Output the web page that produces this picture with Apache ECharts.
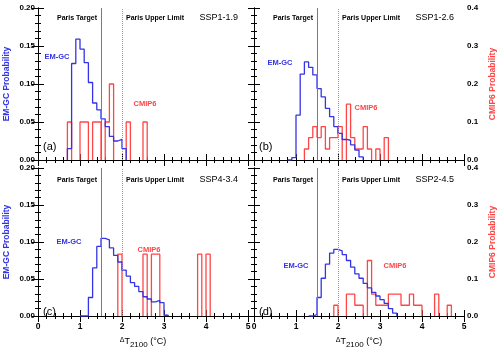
<!DOCTYPE html>
<html>
<head>
<meta charset="utf-8">
<script src="https://cdn.jsdelivr.net/npm/echarts@6/dist/echarts.min.js"></script>
<style>
  html, body { margin: 0; padding: 0; background: #fff; }
  #chart { width: 500px; height: 350px; }
</style>
</head>
<body>
<div id="chart"></div>
<script>
// histogram bin width (degC)
const BIN = 0.1

const panelLetters = ['(a)', '(b)', '(c)', '(d)']
const scenarios = ['SSP1-1.9', 'SSP1-2.6', 'SSP4-3.4', 'SSP2-4.5']
const parisTarget = 1.5
const parisUpper = 2.0

const xTicks = [0, 1, 2, 3, 4, 5]
const emgcTicks = [0, 0.05, 0.10, 0.15, 0.20]
const cmipTicks = [0, 0.1, 0.2, 0.3, 0.4]

// EM-GC probabilities, bins of 0.1 starting at *_start
const emgcA_start = 0.7
const emgcA = [0.015, 0.127, 0.159, 0.146, 0.128, 0.102, 0.075, 0.066, 0.054, 0.044, 0.031, 0.025, 0.027, 0.015]
const emgcB_start = 0.8
const emgcB = [0, 0.003, 0.059, 0.113, 0.129, 0.122, 0.112, 0.094, 0.083, 0.068, 0.057, 0.044, 0.035, 0.027, 0.026, 0.020, 0.013, 0.004]
const emgcC_start = 1.0
const emgcC = [0, 0, 0.025, 0.065, 0.094, 0.105, 0.103, 0.092, 0.082, 0.073, 0.062, 0.054, 0.045, 0.040, 0.033, 0.026, 0.023, 0.019, 0.021, 0.018, 0.001]
const emgcD_start = 1.3
const emgcD = [0, 0.002, 0.025, 0.051, 0.070, 0.085, 0.090, 0.088, 0.083, 0.075, 0.066, 0.057, 0.051, 0.044, 0.038, 0.032, 0.027, 0.022, 0.017, 0.010, 0.004]

// CMIP6 probabilities (right axis), same bin width
const cmipA_start = 0.7
const cmipA = [0.1, 0, 0, 0.1, 0.1, 0, 0.1, 0.1, 0, 0.1, 0.2, 0, 0, 0, 0.1, 0, 0, 0, 0.1]
const cmipB_start = 1.2
const cmipB = [0.029, 0.059, 0.088, 0.059, 0.088, 0.029, 0.059, 0.059, 0.088, 0, 0.147, 0.059, 0.029, 0.029, 0.088, 0.029, 0, 0.029, 0, 0.059]
const cmipC_start = 1.9
const cmipC = [0.167, 0, 0, 0, 0, 0, 0.167, 0, 0.167, 0.167, 0, 0, 0, 0, 0, 0, 0, 0, 0, 0.167, 0, 0.167]
const cmipD_start = 1.9
const cmipD = [0.029, 0, 0, 0.059, 0.059, 0.029, 0.029, 0, 0.15, 0.059, 0.029, 0.029, 0.029, 0.059, 0.059, 0.059, 0.029, 0.029, 0.059, 0.029, 0.029, 0, 0, 0, 0.059, 0, 0, 0.029]

const emgcSets = [[emgcA_start, emgcA], [emgcB_start, emgcB], [emgcC_start, emgcC], [emgcD_start, emgcD]]
const cmipSets = [[cmipA_start, cmipA], [cmipB_start, cmipB], [cmipC_start, cmipC], [cmipD_start, cmipD]]

const BLUE = '#3434e6'
const RED = '#ff4646'
const FONT = 'Liberation Sans, Arial, sans-serif'

// panel boxes in px
const panels = [
  { left: 38, top: 8, width: 210, height: 152 },
  { left: 254, top: 8, width: 210, height: 152 },
  { left: 38, top: 168, width: 210, height: 153 },
  { left: 254, top: 168, width: 210, height: 153 },
]

const r2 = (v) => Math.round(v * 100) / 100

// continuous step outline (runs along zero too)
const stepOutline = (start, vals) => {
  const pts = [[r2(start), 0]]
  vals.forEach((v, i) => {
    pts.push([r2(start + i * BIN), v], [r2(start + (i + 1) * BIN), v])
  })
  pts.push([r2(start + vals.length * BIN), 0])
  return pts
}

// outline only where bins are non-zero, broken between gaps
const boxOutline = (start, vals) => {
  const pts = []
  vals.forEach((v, i) => {
    if (!v) return
    const x0 = r2(start + i * BIN)
    const x1 = r2(start + (i + 1) * BIN)
    if (i === 0 || !vals[i - 1]) pts.push([x0, 0])
    pts.push([x0, v], [x1, v])
    if (i === vals.length - 1 || !vals[i + 1]) pts.push([x1, 0], '-')
  })
  return pts
}

const buildOption = () => {
  const grid = [], xAxis = [], yAxis = [], series = [], graphic = []

  panels.forEach((p, i) => {
    const isLeft = i % 2 === 0
    const isBottom = i >= 2
    grid.push({ left: p.left, top: p.top, width: p.width, height: p.height })

    const tick = { inside: true, length: 6, lineStyle: { color: '#000', width: 1 } }
    const minor = (n) => ({ show: true, splitNumber: n, length: 3, lineStyle: { color: '#000', width: 1 } })
    const axLine = { show: true, lineStyle: { color: '#000', width: 1 } }
    const lbl = { color: '#000', fontSize: 8, fontWeight: 'bold', fontFamily: FONT }

    xAxis.push({
      type: 'value', gridIndex: i, position: 'bottom',
      min: xTicks[0], max: xTicks[xTicks.length - 1], interval: 1,
      axisLine: axLine, axisTick: tick, minorTick: minor(5), splitLine: { show: false },
      axisLabel: { ...lbl, show: isBottom, margin: 6, fontSize: 8.5 },
      name: isBottom ? '{d|Δ}{t|T}{s|2100}{t| (°C)}' : '',
      nameLocation: 'middle', nameGap: 19,
      nameTextStyle: {
        rich: {
          d: { fontSize: 7, fontFamily: FONT, color: '#000', padding: [0, 0, 3, 0] },
          t: { fontSize: 9, fontFamily: FONT, color: '#000' },
          s: { fontSize: 8, fontFamily: FONT, color: '#000', padding: [6, 0, 0, 0] },
        },
      },
    })
    xAxis.push({
      type: 'value', gridIndex: i, position: 'top',
      min: xTicks[0], max: xTicks[xTicks.length - 1], interval: 1,
      axisLine: axLine, axisTick: tick, minorTick: minor(5), splitLine: { show: false },
      axisLabel: { show: false },
    })
    yAxis.push({
      type: 'value', gridIndex: i, position: 'left',
      min: emgcTicks[0], max: emgcTicks[emgcTicks.length - 1], interval: 0.05,
      axisLine: axLine, axisTick: tick, minorTick: minor(5), splitLine: { show: false },
      axisLabel: { ...lbl, show: isLeft, margin: 3, formatter: (v) => v.toFixed(2) },
      name: isLeft ? 'EM-GC Probability' : '',
      nameLocation: 'middle', nameRotate: 90, nameGap: 27,
      nameTextStyle: { color: BLUE, fontSize: 8.5, fontWeight: 'bold', fontFamily: FONT },
    })
    yAxis.push({
      type: 'value', gridIndex: i, position: 'right',
      min: cmipTicks[0], max: cmipTicks[cmipTicks.length - 1], interval: 0.1,
      axisLine: axLine, axisTick: tick, minorTick: minor(5), splitLine: { show: false },
      axisLabel: { ...lbl, show: !isLeft, margin: 3, formatter: (v) => v.toFixed(1) },
      name: !isLeft ? 'CMIP6 Probability' : '',
      nameLocation: 'middle', nameRotate: 90, nameGap: 24,
      nameTextStyle: { color: RED, fontSize: 8.5, fontWeight: 'bold', fontFamily: FONT },
    })

    series.push({
      name: 'CMIP6', type: 'line', xAxisIndex: 2 * i, yAxisIndex: 2 * i + 1,
      data: boxOutline(cmipSets[i][0], cmipSets[i][1]),
      showSymbol: false, connectNulls: false, silent: true,
      lineStyle: { color: RED, width: 1.3 }, z: 3,
    })
    series.push({
      name: 'EM-GC', type: 'line', xAxisIndex: 2 * i, yAxisIndex: 2 * i,
      data: stepOutline(emgcSets[i][0], emgcSets[i][1]),
      showSymbol: false, silent: true,
      lineStyle: { color: BLUE, width: 1.3 }, z: 4,
      markLine: {
        symbol: 'none', silent: true, label: { show: false },
        data: [
          { xAxis: parisTarget, lineStyle: { color: '#7a7a7a', type: 'solid', width: 1 } },
          { xAxis: parisUpper, lineStyle: { color: '#9a9a9a', type: 'dotted', width: 1 } },
        ],
      },
    })

    const small = { fill: '#000', fontSize: 7, fontWeight: 'bold', fontFamily: FONT }
    const ty = p.top + (isBottom ? 12 : 10)
    graphic.push(
      { type: 'text', x: p.left + 39, y: ty, style: { ...small, text: 'Paris Target', align: 'center', verticalAlign: 'middle' } },
      { type: 'text', x: p.left + 117, y: ty, style: { ...small, text: 'Paris Upper Limit', align: 'center', verticalAlign: 'middle' } },
      { type: 'text', x: p.left + 200, y: ty, style: { fill: '#000', fontSize: 9, fontFamily: FONT, text: scenarios[i], align: 'right', verticalAlign: 'middle' } },
      { type: 'text', x: p.left + 5, y: p.top + (isBottom ? 144 : 139), style: { fill: '#000', fontSize: 11, fontFamily: FONT, text: panelLetters[i], align: 'left', verticalAlign: 'middle' } },
    )
  })

  // series labels inside the panels
  const emgcLabelPos = [[57, 57], [280, 63], [69, 242], [296, 266]]
  const cmipLabelPos = [[145, 104], [366, 108], [149, 250], [395, 266]]
  emgcLabelPos.forEach(([x, y]) => graphic.push({ type: 'text', x, y, style: { text: 'EM-GC', fill: BLUE, fontSize: 7.5, fontWeight: 'bold', fontFamily: FONT, align: 'center', verticalAlign: 'middle' } }))
  cmipLabelPos.forEach(([x, y]) => graphic.push({ type: 'text', x, y, style: { text: 'CMIP6', fill: RED, fontSize: 7.5, fontWeight: 'bold', fontFamily: FONT, align: 'center', verticalAlign: 'middle' } }))

  return {
    animation: false,
    backgroundColor: '#fff',
    grid, xAxis, yAxis, series, graphic,
  }
}

const chartInstance = echarts.init(document.getElementById('chart'), null, { renderer: 'canvas' })
chartInstance.setOption(buildOption())
</script>
</body>
</html>
